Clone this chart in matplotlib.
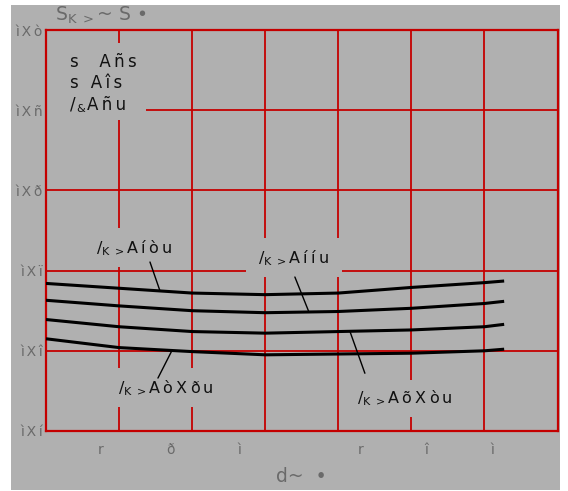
import numpy as np
import matplotlib
matplotlib.use('Agg')
import matplotlib.pyplot as plt
from matplotlib.patches import Rectangle

# data (x in grid units, y in axis units)
x = [0, 1, 2, 3, 4, 5, 6, 6.27]
curve1 = [0.284, 0.278, 0.272, 0.270, 0.272, 0.279, 0.285, 0.287]
curve2 = [0.263, 0.256, 0.250, 0.2475, 0.249, 0.253, 0.259, 0.2617]
curve3 = [0.239, 0.230, 0.224, 0.222, 0.224, 0.226, 0.230, 0.233]
curve4 = [0.215, 0.204, 0.199, 0.195, 0.196, 0.197, 0.200, 0.202]

yticks = [0.1, 0.2, 0.3, 0.4, 0.5, 0.6]
ytick_labels = ['ìXí', 'ìXî', 'ìXï', 'ìXð', 'ìXñ', 'ìXò']
xtick_pos = [0.75, 1.71, 2.65, 4.3, 5.21, 6.11]
xtick_labels = ['r', 'ð', 'ì', 'r', 'î', 'ì']

legend_lines = ['s  Añs', 's Aîs', 'Añu']
sub = r'$/_{\mathrm{K}\ >}$'
curve_labels = ['Aíòu', 'Aííu', 'AòXðu', 'AõXòu']

BG = '#b0b0b0'
RED = '#c40000'
GREY_TXT = '#6a6a6a'


def spaced(s):
    return '\u2009'.join(s)


fig = plt.figure(figsize=(5.68, 4.91), dpi=100)
fig.patch.set_facecolor('white')
fig.patches.append(Rectangle((11 / 568, 1 / 491), 549 / 568, 485 / 491,
                             transform=fig.transFigure, facecolor=BG,
                             edgecolor='none', zorder=-10))

ax = fig.add_axes([46 / 568, 1 - 431 / 491, 511.5 / 568, 401 / 491])
ax.set_facecolor(BG)
ax.set_xlim(0, 7)
ax.set_ylim(0.1, 0.6)

for s in ax.spines.values():
    s.set_color(RED)
    s.set_linewidth(1.6)

# grid
for gx in range(1, 7):
    ax.axvline(gx, color=RED, lw=1.3, zorder=1)
for gy in [0.2, 0.3, 0.4, 0.5]:
    ax.axhline(gy, color=RED, lw=1.3, zorder=1)

ax.set_yticks(yticks)
ax.set_yticklabels([spaced(t) for t in ytick_labels])
ax.set_xticks(xtick_pos)
ax.set_xticklabels(xtick_labels)
ax.tick_params(length=0, labelsize=10, colors=GREY_TXT)
ax.tick_params(axis='y', pad=2)
ax.tick_params(axis='x', pad=9)

# gaps in the grid behind labels
gaps = [(0.02, 0.488, 1.35, 0.096), (0.6, 0.304, 1.2, 0.049),
        (2.74, 0.292, 1.31, 0.049), (0.88, 0.130, 1.43, 0.0486),
        (4.16, 0.117, 1.44, 0.0466)]
for gx0, gy0, gw, gh in gaps:
    ax.add_patch(Rectangle((gx0, gy0), gw, gh, facecolor=BG,
                           edgecolor='none', zorder=2))

for c in [curve1, curve2, curve3, curve4]:
    ax.plot(x, c, color='black', lw=2.2, zorder=4, solid_capstyle='butt',
            solid_joinstyle='round')

# legend-like text at top left
for i, t in enumerate(legend_lines):
    ty = 0.560 - i * 0.0265
    if i == 2:
        ax.text(0.33, ty, '/', fontsize=12, ha='left', va='center',
                color='#111111', zorder=5)
        ax.text(0.42, ty - 0.006, '&', fontsize=8, ha='left', va='center',
                color='#111111', zorder=5)
        ax.text(0.56, ty, spaced(t), fontsize=12, ha='left', va='center',
                color='#111111', zorder=5)
    else:
        ax.text(0.33, ty, spaced(t), fontsize=12, ha='left', va='center',
                color='#111111', zorder=5)

# curve labels with leader lines
text_pos = [(1.20, 0.328), (3.39, 0.3157), (1.64, 0.1536), (4.91, 0.1411)]
leader_from = [(1.423, 0.3107), (3.406, 0.292), (1.532, 0.166), (4.364, 0.172)]
leader_x = [1.56, 3.598, 1.724, 4.159]
leader_curve = [curve1, curve2, curve4, curve3]
for lab, (tx, ty), (lx, ly), px, c in zip(curve_labels, text_pos,
                                           leader_from, leader_x, leader_curve):
    ax.text(tx, ty, sub + spaced(lab), fontsize=11.5, ha='center',
            va='center', color='#111111', zorder=5)
    ax.annotate('', xy=(px, np.interp(px, x, c)), xytext=(lx, ly),
                arrowprops=dict(arrowstyle='-', color='black', lw=1.0,
                                shrinkA=0, shrinkB=0), zorder=5)

fig.text(55 / 568, 1 - 15 / 491, r'S$_{\mathrm{K}\ >}$~ S •', fontsize=13.5,
         color=GREY_TXT, ha='left', va='center')
fig.text(301 / 568, 1 - 477 / 491, 'd~  •', fontsize=13.5, color=GREY_TXT,
         ha='center', va='center')

fig.savefig('out.png', dpi=100, facecolor=fig.get_facecolor())
